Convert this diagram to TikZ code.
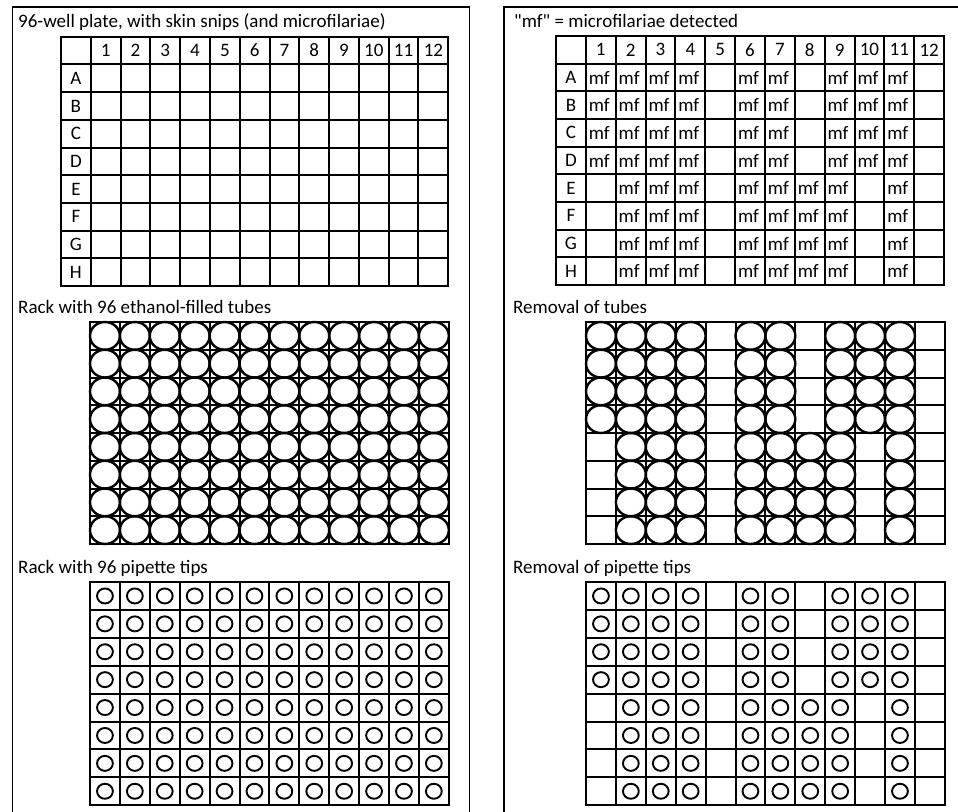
\documentclass[tikz,border=0pt]{standalone}
\usepackage{fontspec}
\setmainfont{Carlito}
\newfontfamily\carlitoplain{Carlito}
\begin{document}
\begin{tikzpicture}[x=1pt,y=-1pt,
  frame/.style={line width=1.5pt},
  gridline/.style={line width=2pt, line cap=rect},
  title/.style={anchor=west, inner sep=0pt, font=\fontsize{19}{22}\selectfont},
  lbl/.style={inner sep=0pt, font=\fontsize{19}{22}\selectfont},
  tube/.style={line width=2.4pt},
  tip/.style={line width=1.9pt}]
\useasboundingbox (0,0) rectangle (958,811);
\clip (0,0) rectangle (958,811);
\fill[white] (0,0) rectangle (958,811);
% panel frames
\draw[frame] (12.5,7) rectangle (469.5,830);
\draw[frame] (504,7) rectangle (990,830);
% titles
\node[title] (t1) at (18,22) {96-well plate, with skin snips (and microfilariae)};
\node[title] (t2) at (514,21) {\carlitoplain "mf" = microfilariae detected};
\node[title] (t3) at (18,307) {Rack with 96 ethanol-filled tubes};
\node[title] (t4) at (513,307) {Removal of tubes};
\node[title] (t5) at (18,568) {Rack with 96 pipette tips};
\node[title] (t6) at (513,568) {Removal of pipette tips};

% ---------- left 96-well plate ----------
\def\pw{29.79}\def\ph{27.7}
\foreach \i in {0,...,13} \draw[gridline] ({61+\i*\pw},36.7) -- ({61+\i*\pw},{36.7+9*\ph});
\foreach \j in {0,...,9} \draw[gridline] (61,{36.7+\j*\ph}) -- ({61+13*\pw},{36.7+\j*\ph});
\foreach \c in {1,...,12} \node[lbl] (pl-h\c) at ({61+(\c+0.5)*\pw},{36.7+0.5*\ph}) {\c};
\foreach \r [count=\k] in {A,B,C,D,E,F,G,H} \node[lbl] (pl-\r) at ({61+0.5*\pw},{36.7+(\k+0.5)*\ph}) {\r};

% ---------- right 96-well plate ----------
\def\qw{29.85}\def\qh{27.67}
\foreach \i in {0,...,13} \draw[gridline] ({556+\i*\qw},36) -- ({556+\i*\qw},{36+9*\qh});
\foreach \j in {0,...,9} \draw[gridline] (556,{36+\j*\qh}) -- ({556+13*\qw},{36+\j*\qh});
\foreach \c in {1,...,12} \node[lbl] (pr-h\c) at ({556+(\c+0.5)*\qw},{36+0.5*\qh}) {\c};
\foreach \r [count=\k] in {A,B,C,D,E,F,G,H} \node[lbl] (pr-\r) at ({556+0.5*\qw},{36+(\k+0.5)*\qh}) {\r};
\foreach \r/\k in {A/1,B/2,C/3,D/4}
  \foreach \c in {1,2,3,4,6,7,9,10,11}
    \node[lbl] (mf-\r\c) at ({556+(\c+0.45)*\qw},{36+(\k+0.5)*\qh}) {mf};
\foreach \r/\k in {E/5,F/6,G/7,H/8}
  \foreach \c in {2,3,4,6,7,8,9,11}
    \node[lbl] (mf-\r\c) at ({556+(\c+0.45)*\qw},{36+(\k+0.5)*\qh}) {mf};

% ---------- tube racks ----------
\def\tw{29.9}\def\th{27.75}
% left: full
\foreach \i in {0,...,12} \draw[gridline] ({90+\i*\tw},322) -- ({90+\i*\tw},{322+8*\th});
\foreach \j in {0,...,8} \draw[gridline] (90,{322+\j*\th}) -- ({90+12*\tw},{322+\j*\th});
\foreach \k in {0,...,7}
  \foreach \c in {0,...,11}
    \draw[tube] ({90+(\c+0.5)*\tw},{322+(\k+0.5)*\th}) ellipse [x radius=14.95pt, y radius=13.87pt];
% right: after removal
\foreach \i in {0,...,12} \draw[gridline] ({586+\i*\tw},322) -- ({586+\i*\tw},{322+8*\th});
\foreach \j in {0,...,8} \draw[gridline] (586,{322+\j*\th}) -- ({586+12*\tw},{322+\j*\th});
\foreach \k in {0,...,3}
  \foreach \c in {1,2,3,4,6,7,9,10,11}
    \draw[tube] ({586+(\c-0.5)*\tw},{322+(\k+0.5)*\th}) ellipse [x radius=14.95pt, y radius=13.87pt];
\foreach \k in {4,...,7}
  \foreach \c in {2,3,4,6,7,8,9,11}
    \draw[tube] ({586+(\c-0.5)*\tw},{322+(\k+0.5)*\th}) ellipse [x radius=14.95pt, y radius=13.87pt];

% ---------- tip racks ----------
\def\uh{27.9}
\foreach \i in {0,...,12} \draw[gridline] ({90+\i*\tw},582) -- ({90+\i*\tw},{582+8*\uh});
\foreach \j in {0,...,8} \draw[gridline] (90,{582+\j*\uh}) -- ({90+12*\tw},{582+\j*\uh});
\foreach \k in {0,...,7}
  \foreach \c in {0,...,11}
    \draw[tip] ({90+(\c+0.5)*\tw},{582+(\k+0.5)*\uh}) ellipse [x radius=7.9pt, y radius=7.5pt];
\foreach \i in {0,...,12} \draw[gridline] ({586+\i*\tw},582) -- ({586+\i*\tw},{582+8*\uh});
\foreach \j in {0,...,8} \draw[gridline] (586,{582+\j*\uh}) -- ({586+12*\tw},{582+\j*\uh});
\foreach \k in {0,...,3}
  \foreach \c in {1,2,3,4,6,7,9,10,11}
    \draw[tip] ({586+(\c-0.5)*\tw},{582+(\k+0.5)*\uh}) ellipse [x radius=7.9pt, y radius=7.5pt];
\foreach \k in {4,...,7}
  \foreach \c in {2,3,4,6,7,8,9,11}
    \draw[tip] ({586+(\c-0.5)*\tw},{582+(\k+0.5)*\uh}) ellipse [x radius=7.9pt, y radius=7.5pt];
\end{tikzpicture}
\end{document}
